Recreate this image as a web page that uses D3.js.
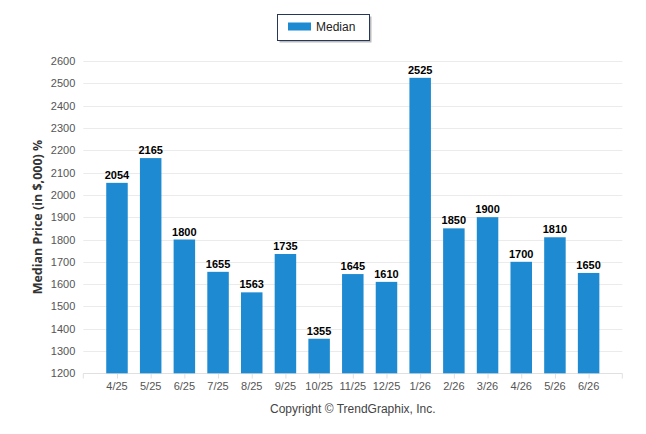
<!DOCTYPE html>
<html>
<head>
<meta charset="utf-8">
<script src="https://cdn.jsdelivr.net/npm/d3@7"></script>
<style>
  body { margin: 0; background: #fff; }
  svg { display: block; }
</style>
</head>
<body>
<div id="content"></div>
<script>
// chart data
var months = ['4/25', '5/25', '6/25', '7/25', '8/25', '9/25', '10/25', '11/25',
              '12/25', '1/26', '2/26', '3/26', '4/26', '5/26', '6/26'];
var medianValues = [2054, 2165, 1800, 1655, 1563, 1735, 1355, 1645,
                    1610, 2525, 1850, 1900, 1700, 1810, 1650];
var yTicks = [1200, 1300, 1400, 1500, 1600, 1700, 1800, 1900, 2000,
              2100, 2200, 2300, 2400, 2500, 2600];
var seriesName = 'Median';

function draw_chart(){
    var W = 646, H = 434;
    var plotL = 83.3, plotR = 622.3, plotT = 61.1, plotB = 373.3;
    var barColor = '#1e8ad2';
    var font = "'Liberation Sans', Arial, sans-serif";

    var svg = d3.select('#content')
        .append('svg')
        .attr('width', W)
        .attr('height', H);

    var x = d3.scalePoint()
        .domain(months)
        .range([plotL, plotR])
        .padding(1);

    var y = d3.scaleLinear()
        .domain([1200, 2600])
        .range([plotB, plotT]);

    // grid lines
    svg.append('g')
        .selectAll('line')
        .data(yTicks)
        .enter()
        .append('line')
        .attr('x1', plotL)
        .attr('x2', plotR)
        .attr('y1', function(d){ return Math.round(y(d)) + 0.5; })
        .attr('y2', function(d){ return Math.round(y(d)) + 0.5; })
        .attr('stroke', '#ebebeb')
        .attr('stroke-width', 1);

    // y labels
    svg.append('g')
        .selectAll('text')
        .data(yTicks)
        .enter()
        .append('text')
        .attr('x', plotL - 8)
        .attr('y', function(d){ return y(d) + 4; })
        .attr('text-anchor', 'end')
        .attr('font-family', font)
        .attr('font-size', 11)
        .attr('fill', '#555')
        .text(function(d){ return d; });

    // x axis line, ticks at both ends and at category centres
    var xAxis = d3.axisBottom(x).tickSize(5).tickSizeOuter(5).tickFormat('');
    var gx = svg.append('g')
        .attr('transform', 'translate(0,' + (Math.round(plotB) + 0.5) + ')')
        .call(xAxis);
    gx.select('.domain')
        .attr('stroke', '#e0e0e0')
        .attr('d', 'M' + plotL + ',5V0H' + plotR + 'V5');
    gx.selectAll('.tick line').attr('stroke', '#e0e0e0');

    // x labels
    svg.append('g')
        .selectAll('text')
        .data(months)
        .enter()
        .append('text')
        .attr('x', function(d){ return x(d); })
        .attr('y', 390)
        .attr('text-anchor', 'middle')
        .attr('font-family', font)
        .attr('font-size', 11)
        .attr('fill', '#555')
        .text(function(d){ return d; });

    // bars
    var barW = 21.5;
    svg.append('g')
        .selectAll('rect')
        .data(medianValues)
        .enter()
        .append('rect')
        .attr('fill', barColor)
        .attr('x', function(d, i){ return x(months[i]) - barW / 2; })
        .attr('width', barW)
        .attr('y', function(d){ return y(d); })
        .attr('height', function(d){ return y(1200) - y(d); });

    // value labels
    svg.append('g')
        .selectAll('text')
        .data(medianValues)
        .enter()
        .append('text')
        .attr('x', function(d, i){ return x(months[i]); })
        .attr('y', function(d){ return y(d) - 4; })
        .attr('text-anchor', 'middle')
        .attr('font-family', font)
        .attr('font-size', 11)
        .attr('font-weight', 'bold')
        .attr('fill', '#000')
        .text(function(d){ return d; });

    // y title
    svg.append('text')
        .attr('transform', 'translate(42,217) rotate(-90)')
        .attr('text-anchor', 'middle')
        .attr('font-family', "'Open Sans', sans-serif")
        .attr('font-size', 12.5)
        .attr('font-weight', 'bold')
        .attr('fill', '#333')
        .text('Median Price (in $,000) %');

    // copyright
    svg.append('text')
        .attr('x', (plotL + plotR) / 2)
        .attr('y', 413)
        .attr('text-anchor', 'middle')
        .attr('font-family', font)
        .attr('font-size', 12)
        .attr('fill', '#444')
        .text('Copyright \u00A9 TrendGraphix, Inc.');

    // legend
    var lg = svg.append('g');
    lg.append('rect')
        .attr('x', 279.5).attr('y', 16.5)
        .attr('width', 92).attr('height', 26)
        .attr('fill', '#bbb');
    lg.append('rect')
        .attr('x', 277.5).attr('y', 14.5)
        .attr('width', 92).attr('height', 26)
        .attr('fill', '#fff')
        .attr('stroke', '#26385a')
        .attr('stroke-width', 1);
    lg.append('rect')
        .attr('x', 288).attr('y', 22.5)
        .attr('width', 23).attr('height', 8)
        .attr('fill', barColor);
    lg.append('text')
        .attr('x', 316).attr('y', 31)
        .attr('font-family', font)
        .attr('font-size', 12)
        .attr('fill', '#222')
        .text(seriesName);
}

draw_chart();
</script>
</body>
</html>
